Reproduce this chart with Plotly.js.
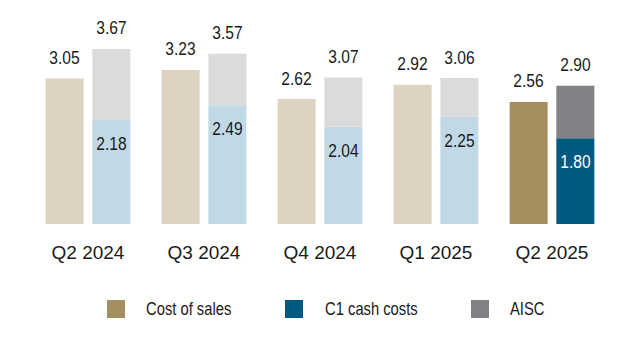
<!DOCTYPE html>
<html>
<head>
<meta charset="utf-8">
<script src="https://cdn.plot.ly/plotly-3.0.1.min.js"></script>
<style>html,body{margin:0;padding:0;background:#fff;}#chart{width:640px;height:360px;}</style>
</head>
<body>
<div id="chart"></div>
<script>
var categories = ["Q2 2024", "Q3 2024", "Q4 2024", "Q1 2025", "Q2 2025"];
var costOfSales = [3.05, 3.23, 2.62, 2.92, 2.56];
var c1CashCosts = [2.18, 2.49, 2.04, 2.25, 1.80];
var aisc = [3.67, 3.57, 3.07, 3.06, 2.90];
var seriesNames = ["Cost of sales", "C1 cash costs", "AISC"];

var lightCols = ["#DDD3C0", "#C1D9E7", "#DBDBDB"];
var darkCols = ["#A38F60", "#005A80", "#808184"];
function colsFor(i) {
  return categories.map(function (c, k) { return k === categories.length - 1 ? darkCols[i] : lightCols[i]; });
}

var FONT = '"Liberation Sans", Arial, sans-serif';
var L = 30, R = 30, T = 10, B = 136, W = 640, H = 360;
var pw = W - L - R, ph = H - T - B;
function px(x) { return (x - L) / pw; }
function py(y) { return (H - B - y) / ph; }

var aiscRemainder = aisc.map(function (v, i) { return +(v - c1CashCosts[i]).toFixed(4); });

var traces = [
  { type: "bar", x: categories, y: costOfSales, offsetgroup: "a", name: seriesNames[0],
    marker: { color: colsFor(0) }, hoverinfo: "none", showlegend: false },
  { type: "bar", x: categories, y: c1CashCosts, offsetgroup: "b", name: seriesNames[1],
    marker: { color: colsFor(1) }, hoverinfo: "none", showlegend: false },
  { type: "bar", x: categories, y: aiscRemainder, base: c1CashCosts, offsetgroup: "b", name: seriesNames[2],
    marker: { color: colsFor(2) }, hoverinfo: "none", showlegend: false }
];

var OFF = 23.3;
var annotations = [];
categories.forEach(function (c, i) {
  annotations.push({ x: c, y: costOfSales[i], xref: "x", yref: "y", xshift: -OFF, yshift: 21,
    text: costOfSales[i].toFixed(2), showarrow: false, yanchor: "middle",
    font: { family: FONT, size: 19, color: "#1a1a1a" } });
  annotations.push({ x: c, y: aisc[i], xref: "x", yref: "y", xshift: OFF, yshift: 21,
    text: aisc[i].toFixed(2), showarrow: false, yanchor: "middle",
    font: { family: FONT, size: 19, color: "#1a1a1a" } });
  annotations.push({ x: c, y: c1CashCosts[i], xref: "x", yref: "y", xshift: OFF, yshift: -23.5,
    text: c1CashCosts[i].toFixed(2), showarrow: false, yanchor: "middle",
    font: { family: FONT, size: 19, color: i === categories.length - 1 ? "#ffffff" : "#1a1a1a" } });
});

var legendSw = [107, 285, 471];
var legendTx = [144, 322.7, 508];
var shapes = [];
seriesNames.forEach(function (n, i) {
  shapes.push({ type: "rect", xref: "paper", yref: "paper",
    x0: px(legendSw[i]), x1: px(legendSw[i] + 18), y0: py(318), y1: py(300),
    fillcolor: darkCols[i], line: { width: 0 } });
  annotations.push({ xref: "paper", yref: "paper", x: px(legendTx[i]), y: py(309),
    xanchor: "left", yanchor: "middle", text: n, showarrow: false,
    font: { family: FONT, size: 18, color: "#1a1a1a" } });
});

var layout = {
  width: W, height: H,
  margin: { l: L, r: R, t: T, b: B, pad: 0 },
  paper_bgcolor: "#ffffff", plot_bgcolor: "#ffffff",
  barmode: "group", bargap: 0.195, bargroupgap: 0.186,
  showlegend: false,
  font: { family: FONT, size: 19, color: "#1a1a1a" },
  xaxis: { type: "category", showgrid: false, zeroline: false, showline: false,
    ticks: "", ticklabelstandoff: 15, tickfont: { family: FONT, size: 19, color: "#1a1a1a" },
    range: [-0.5, 4.5] },
  yaxis: { range: [0, 214 / 47.7], visible: false, showgrid: false, zeroline: false },
  annotations: annotations,
  shapes: shapes
};

Plotly.newPlot("chart", traces, layout, { staticPlot: true, displayModeBar: false }).then(function (gd) {
  // narrow the label glyphs to mimic a condensed face
  var groups = gd.querySelectorAll("g.annotation");
  groups.forEach(function (g, k) {
    var t = g.querySelector("text.annotation-text");
    if (!t) return;
    var ann = annotations[k];
    var left = ann && ann.xanchor === "left";
    t.style.transformBox = "fill-box";
    t.style.transformOrigin = left ? "left center" : "center center";
    t.style.transform = "scaleX(0.82)";
  });
});
</script>
</body>
</html>
